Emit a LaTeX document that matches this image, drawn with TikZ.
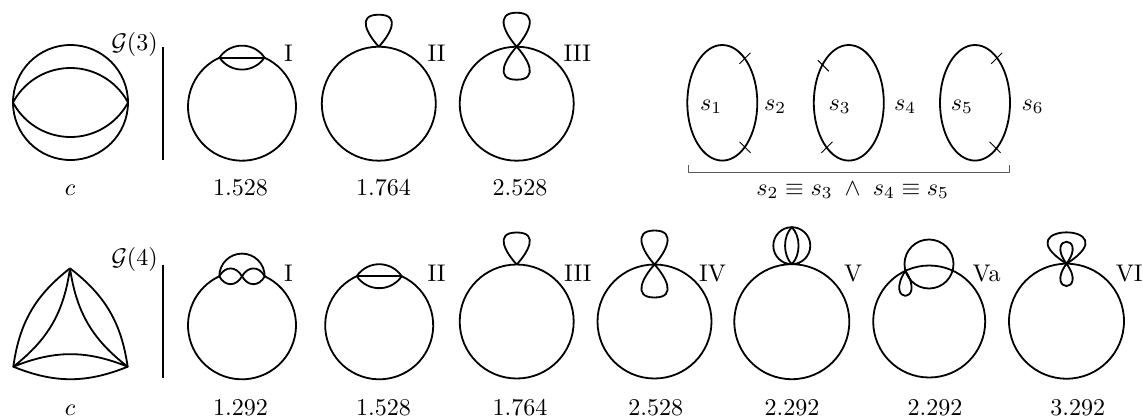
\documentclass[tikz,border=0pt]{standalone}

\tikzset{
val/.style={anchor=base},
kind/.style={anchor=base west,inner sep=0pt}
}

\begin{document}
\begin{tikzpicture}[x=0.0146cm,y=-0.0146cm,line width=0.75pt,line join=round]
\useasboundingbox (0,0) rectangle (1143,417);

% upper row
\draw (70.5,102.5) circle (57.5);
\draw (13,102.5) arc[start angle=208.1,end angle=331.9,radius=65.2];
\draw (13,102.5) arc[start angle=151.9,end angle=28.1,radius=65.2];
\draw (162.7,47)--(162.7,160);
\node[val] (g3) at (134.5,50.5) {$\mathcal{G}(3)$};

\foreach \x/\y in {242/106.7,379.2/325.3}{
\draw[shift={(\x,\y)}] (-65.4:54) arc[start angle=-65.4,end angle=245.4,radius=54];
\draw[shift={(\x,\y)}] (-22.5,-49.1)--(22.5,-49.1);
\draw[shift={(\x,\y)}] (-22.5,-49.1) arc[start angle=213.9,end angle=326.1,radius=27.1];
\draw[shift={(\x,\y)}] (-22.5,-49.1) arc[start angle=146.1,end angle=33.9,radius=27.1];
}

\foreach \x/\y in {378.8/103.7,516.7/321.5}{
\draw[shift={(\x,\y)}] (0,0) circle (57);
\draw[shift={(\x,\y)}] (0,-57) .. controls (-11,-69) and (-23,-89) .. (0,-89)
  .. controls (23,-89) and (11,-69) .. (0,-57);
}

\foreach \x/\y in {516.7/103.7,654.5/321.5}{
\draw[shift={(\x,\y)}] (0,0) circle (57);
\draw[shift={(\x,\y)}] (0,-57) .. controls (-11,-69) and (-23,-91) .. (0,-91)
  .. controls (23,-91) and (11,-69) .. (0,-57)
  .. controls (-11,-45) and (-23,-24) .. (0,-24)
  .. controls (23,-24) and (11,-45) .. (0,-57);
}

\node[val] (c3) at (70,195) {$c$};
\node[val] (v31) at (240.5,195) {1.528};
\node[val] (v32) at (383.5,195) {1.764};
\node[val] (v33) at (520,195) {2.528};
\node[kind] (k31) at (283.3,61.7) {I};
\node[kind] (k32) at (426.7,61.7) {II};
\node[kind] (k33) at (562.7,61.7) {III};

% the three ovals
\foreach \x in {722.3,848.8,975}{
\draw (\x,102.8) ellipse (35 and 57.8);
}
\foreach \p in {(745,58.3),(827,147.3),(996.7,58.3)}{
\draw[thin] \p +(-5.5,5.5) -- +(5.5,-5.5);
}
\foreach \p in {(745,147.3),(823.3,65.7),(995,147.3)}{
\draw[thin] \p +(-5.5,-5.5) -- +(5.5,5.5);
}
\node[kind] (s1) at (699.3,110) {$s_1$};
\node[kind] (s2) at (763.3,110) {$s_2$};
\node[kind] (s3) at (827.7,110) {$s_3$};
\node[kind] (s4) at (893.3,110) {$s_4$};
\node[kind] (s5) at (950,110) {$s_5$};
\node[kind] (s6) at (1020.7,110) {$s_6$};
\draw[thin,black!65] (688.3,165) -- (688.3,172.7) -- (1009.3,172.7) -- (1009.3,165);
\node[val] (same) at (852.7,195) {$s_2\equiv s_3\;\wedge\;s_4\equiv s_5$};

% lower row
\coordinate (ta) at (70,268.3);
\coordinate (tb) at (13.3,366.7);
\coordinate (tc) at (127.7,366.7);
\draw (ta) to[bend left=22] (tb) to[bend left=22] (tc) to[bend left=22] (ta);
\draw (ta) to[bend right=22] (tb) to[bend right=22] (tc) to[bend right=22] (ta);
\draw (162.7,265)--(162.7,378.3);
\node[val] (g4) at (134.5,265.5) {$\mathcal{G}(4)$};

\draw[shift={(242,325.3)}] (-65.1:54) arc[start angle=-65.1,end angle=245.1,radius=54];
\draw[shift={(242,325.3)}] (-22.7,-49) arc[start angle=180,end angle=360,radius=22.7];
\draw[shift={(242,325.3)}] (-22.7,-49) .. controls (-17,-59.5) and (-6,-59.5) .. (0,-49)
  .. controls (6,-38.5) and (17,-38.5) .. (22.7,-49);
\draw[shift={(242,325.3)}] (-22.7,-49) .. controls (-17,-38.5) and (-6,-38.5) .. (0,-49)
  .. controls (6,-59.5) and (17,-59.5) .. (22.7,-49);

\draw[shift={(791.8,321.7)}] (0,0) circle (57.5) (0,-76) circle (18.5);
\draw[shift={(791.8,321.7)}] (0,-57.5) .. controls (-9,-66.5) and (-9,-85.5) .. (0,-94.5)
  .. controls (9,-85.5) and (9,-66.5) .. (0,-57.5);

\draw (929.2,321.5) circle (56) (929,264) circle (24.5);
\draw (905.4,270.7) .. controls (883.9,304.3) and (926.9,304.3) .. (905.4,270.7);

\draw[shift={(1066.5,321.2)}] (0,0) circle (57.5);
\draw[shift={(1066.5,321.2)}] (0,-57.5) .. controls (-66,-99.3) and (66,-99.3) .. (0,-57.5);
\draw[shift={(1066.5,321.2)}] (0,-57.5) .. controls (-21.5,-86.8) and (21.5,-86.8) .. (0,-57.5);
\draw[shift={(1066.5,321.2)}] (0,-57.5) .. controls (-21.5,-27.7) and (21.5,-27.7) .. (0,-57.5);

\node[val] (c4) at (70,415.3) {$c$};
\node[val] (v41) at (240.5,415.3) {1.292};
\node[val] (v42) at (383.5,415.3) {1.528};
\node[val] (v43) at (520,415.3) {1.764};
\node[val] (v44) at (655.8,415.3) {2.528};
\node[val] (v45) at (792,415.3) {2.292};
\node[val] (v46) at (935,415.3) {2.292};
\node[val] (v47) at (1077.7,415.3) {3.292};
\node[kind] (k41) at (283.3,281.5) {I};
\node[kind] (k42) at (426.7,281.5) {II};
\node[kind] (k43) at (563.3,281.5) {III};
\node[kind] (k44) at (698.3,281.5) {IV};
\node[kind] (k45) at (843.3,281.5) {V};
\node[kind] (k46) at (971.7,281.5) {Va};
\node[kind] (k47) at (1115,281.5) {VI};

\end{tikzpicture}
\end{document}
